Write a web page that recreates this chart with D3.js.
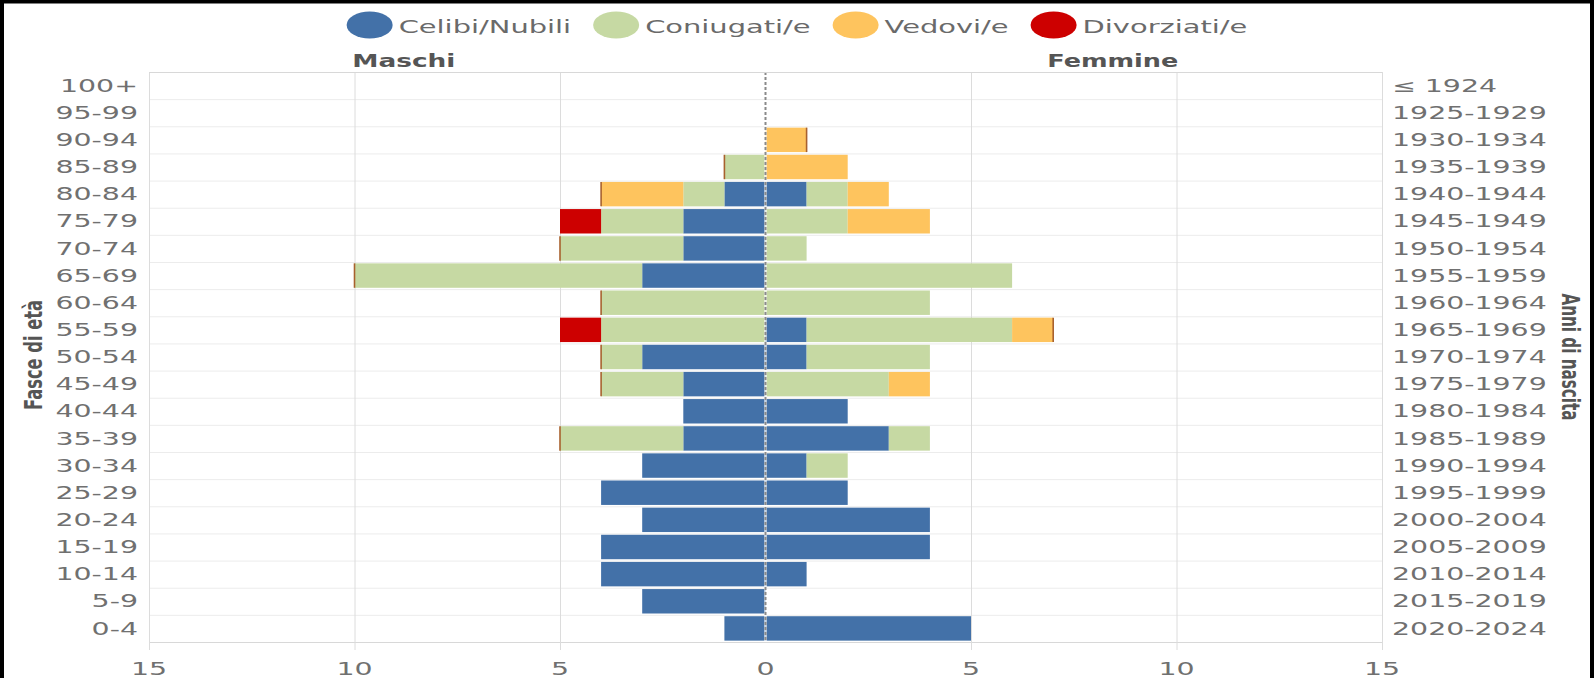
<!DOCTYPE html>
<html>
<head>
<meta charset="utf-8">
<script src="https://cdn.jsdelivr.net/npm/d3@7"></script>
<style>
  body { margin: 0; background: #fff; }
  svg text { font-family: "DejaVu Sans", sans-serif; }
</style>
</head>
<body>
<svg id="chart"></svg>
<script>
// age groups from youngest to oldest
const ageGroups = ["0-4","5-9","10-14","15-19","20-24","25-29","30-34","35-39","40-44","45-49",
  "50-54","55-59","60-64","65-69","70-74","75-79","80-84","85-89","90-94","95-99","100+"];
const birthYears = ["2020-2024","2015-2019","2010-2014","2005-2009","2000-2004","1995-1999","1990-1994",
  "1985-1989","1980-1984","1975-1979","1970-1974","1965-1969","1960-1964","1955-1959","1950-1954",
  "1945-1949","1940-1944","1935-1939","1930-1934","1925-1929","≤ 1924"];

const statusNames = ["Celibi/Nubili", "Coniugati/e", "Vedovi/e", "Divorziati/e"];
const statusColors = ["#4371a8", "#c6d9a3", "#fec45e", "#cd0000"];

// Maschi
const maleCelibi     = [1,3,4,4,3,4,3,2,2,2,3,0,0,3,2,2,1,0,0,0,0];
const maleConiugati  = [0,0,0,0,0,0,0,3,0,2,1,4,4,7,3,2,1,1,0,0,0];
const maleVedovi     = [0,0,0,0,0,0,0,0,0,0,0,0,0,0,0,0,2,0,0,0,0];
const maleDivorziati = [null,null,null,null,null,null,null,0,null,0,0,1,0,0,0,1,0,0,null,null,null];
// Femmine
const femCelibi      = [5,0,1,4,4,2,1,3,2,0,1,1,0,0,0,0,1,0,0,0,0];
const femConiugati   = [0,0,0,0,0,0,1,1,0,3,3,5,4,6,1,2,1,0,0,0,0];
const femVedovi      = [0,0,0,0,0,0,0,0,0,1,0,1,0,0,0,2,1,2,1,0,0];
const femDivorziati  = [null,null,null,null,null,null,null,null,null,null,null,0,null,null,null,null,null,null,0,null,null];

const xTicks = [-15, -10, -5, 0, 5, 10, 15];

const width = 1594, height = 678;
const plot = { left: 149, right: 1382, top: 72, bottom: 642 };
const stretch = 1.67; // labels in the picture are drawn wide

const svg = d3.select('#chart').attr('width', width).attr('height', height);

const x = d3.scaleLinear().domain([-15, 15]).range([plot.left, plot.right]);
const y = d3.scaleBand()
  .domain(ageGroups.slice().reverse())
  .range([plot.top, plot.bottom])
  .paddingInner(0.1)
  .paddingOuter(0.05);
const step = y.step();

// widen a text selection to k times its natural length
function widen(sel, k) {
  sel.each(function() {
    let len = this.getComputedTextLength();
    this.__wide = len * k;
    d3.select(this).attr('textLength', len * k).attr('lengthAdjust', 'spacingAndGlyphs');
  });
}

// grid
let grid = svg.append('g');
grid.selectAll('.hgrid')
  .data(ageGroups)
  .enter().append('line')
  .attr('x1', plot.left).attr('x2', plot.right)
  .attr('y1', d => y(d) - step * 0.05 + 0.5)
  .attr('y2', d => y(d) - step * 0.05 + 0.5)
  .attr('stroke', '#ececec');
grid.append('line')
  .attr('x1', plot.left).attr('x2', plot.right)
  .attr('y1', plot.bottom + 0.5).attr('y2', plot.bottom + 0.5)
  .attr('stroke', '#d8d8d8');
grid.selectAll('.vgrid')
  .data(xTicks.filter(d => d != 0))
  .enter().append('line')
  .attr('x1', d => x(d) + 0.5).attr('x2', d => x(d) + 0.5)
  .attr('y1', plot.top).attr('y2', plot.bottom + 8)
  .attr('stroke', '#dcdcdc');

// build stacked segments
let segments = [];
let zeroMarks = [];
function addSide(series, sign) {
  ageGroups.forEach((age, i) => {
    let acc = 0;
    series.forEach((vals, s) => {
      let v = vals[i];
      if (v === null) return;
      if (v === 0) {
        if (s == 3) zeroMarks.push({ age: age, at: sign * acc });
        return;
      }
      segments.push({ age: age, from: sign * acc, to: sign * (acc + v), color: statusColors[s] });
      acc += v;
    });
  });
}
addSide([maleCelibi, maleConiugati, maleVedovi, maleDivorziati], -1);
addSide([femCelibi, femConiugati, femVedovi, femDivorziati], 1);

svg.append('g').selectAll('rect')
  .data(segments)
  .enter().append('rect')
  .attr('x', d => x(Math.min(d.from, d.to)))
  .attr('width', d => Math.abs(x(d.to) - x(d.from)))
  .attr('y', d => y(d.age))
  .attr('height', y.bandwidth())
  .attr('fill', d => d.color);

svg.append('g').selectAll('line')
  .data(zeroMarks)
  .enter().append('line')
  .attr('x1', d => x(d.at)).attr('x2', d => x(d.at))
  .attr('y1', d => y(d.age)).attr('y2', d => y(d.age) + y.bandwidth())
  .attr('stroke', '#a8612e')
  .attr('stroke-width', 1.6);

// zero line
svg.append('line')
  .attr('x1', x(0)).attr('x2', x(0))
  .attr('y1', plot.top).attr('y2', plot.bottom)
  .attr('stroke', '#fff').attr('stroke-opacity', 0.6).attr('stroke-width', 3);
svg.append('line')
  .attr('x1', x(0)).attr('x2', x(0))
  .attr('y1', plot.top).attr('y2', plot.bottom)
  .attr('stroke', '#8a8a8a').attr('stroke-width', 2)
  .attr('stroke-dasharray', '3,2');

// top border
svg.append('line')
  .attr('x1', plot.left).attr('x2', plot.right)
  .attr('y1', plot.top + 0.5).attr('y2', plot.top + 0.5)
  .attr('stroke', '#d8d8d8');

// left labels: age groups
svg.append('g').selectAll('text')
  .data(ageGroups)
  .enter().append('text')
  .attr('x', 138)
  .attr('y', d => y(d) + y.bandwidth() / 2)
  .attr('dy', '0.36em')
  .attr('text-anchor', 'end')
  .attr('font-size', '17px')
  .attr('fill', '#707070')
  .text(d => d)
  .call(widen, stretch);

// right labels: birth years
svg.append('g').selectAll('text')
  .data(birthYears)
  .enter().append('text')
  .attr('x', 1392)
  .attr('y', (d, i) => y(ageGroups[i]) + y.bandwidth() / 2)
  .attr('dy', '0.36em')
  .attr('font-size', '17px')
  .attr('fill', '#707070')
  .text(d => d)
  .call(widen, stretch);

// bottom ticks
svg.append('g').selectAll('text')
  .data(xTicks)
  .enter().append('text')
  .attr('x', d => x(d))
  .attr('y', 675)
  .attr('text-anchor', 'middle')
  .attr('font-size', '17px')
  .attr('fill', '#707070')
  .text(d => Math.abs(d))
  .call(widen, stretch);

// side titles
svg.append('text')
  .attr('x', x(-8.8)).attr('y', 67)
  .attr('text-anchor', 'middle')
  .attr('font-size', '17px').attr('font-weight', 'bold')
  .attr('fill', '#555')
  .text('Maschi')
  .call(widen, 1.55);
svg.append('text')
  .attr('x', x(8.45)).attr('y', 67)
  .attr('text-anchor', 'middle')
  .attr('font-size', '17px').attr('font-weight', 'bold')
  .attr('fill', '#555')
  .text('Femmine')
  .call(widen, 1.5);

// axis titles (tall, narrow lettering)
svg.append('text')
  .attr('transform', 'translate(42,355) rotate(-90)')
  .attr('text-anchor', 'middle')
  .attr('font-family', '"Liberation Sans Narrow", "DejaVu Sans Condensed", sans-serif')
  .attr('font-size', '24px').attr('font-weight', 'bold')
  .attr('fill', '#555')
  .attr('textLength', 110).attr('lengthAdjust', 'spacingAndGlyphs')
  .text('Fasce di età');
svg.append('text')
  .attr('transform', 'translate(1562,357) rotate(90)')
  .attr('text-anchor', 'middle')
  .attr('font-family', '"Liberation Sans Narrow", "DejaVu Sans Condensed", sans-serif')
  .attr('font-size', '24px').attr('font-weight', 'bold')
  .attr('fill', '#555')
  .attr('textLength', 127).attr('lengthAdjust', 'spacingAndGlyphs')
  .text('Anni di nascita');

// legend, centred on the page
let legend = svg.append('g');
let items = legend.selectAll('g')
  .data(statusNames)
  .enter().append('g');
items.append('ellipse')
  .attr('rx', 23).attr('ry', 13.5).attr('cy', 25)
  .attr('fill', (d, i) => statusColors[i]);
items.append('text')
  .attr('y', 33)
  .attr('font-size', '17px')
  .attr('fill', '#6a6a6a')
  .text(d => d)
  .call(widen, 1.7);
let widths = [];
items.each(function() {
  widths.push(46 + 6 + d3.select(this).select('text').node().__wide);
});
let gap = 22;
let total = d3.sum(widths) + gap * (widths.length - 1);
let pos = (width - total) / 2;
items.each(function(d, i) {
  let g = d3.select(this);
  g.select('ellipse').attr('cx', pos + 23);
  g.select('text').attr('x', pos + 52);
  pos += widths[i] + gap;
});

// outer frame
svg.append('rect')
  .attr('x', 2).attr('y', 1.5)
  .attr('width', width - 4).attr('height', height + 20)
  .attr('fill', 'none')
  .attr('stroke', '#000').attr('stroke-width', 4);
</script>
</body>
</html>
